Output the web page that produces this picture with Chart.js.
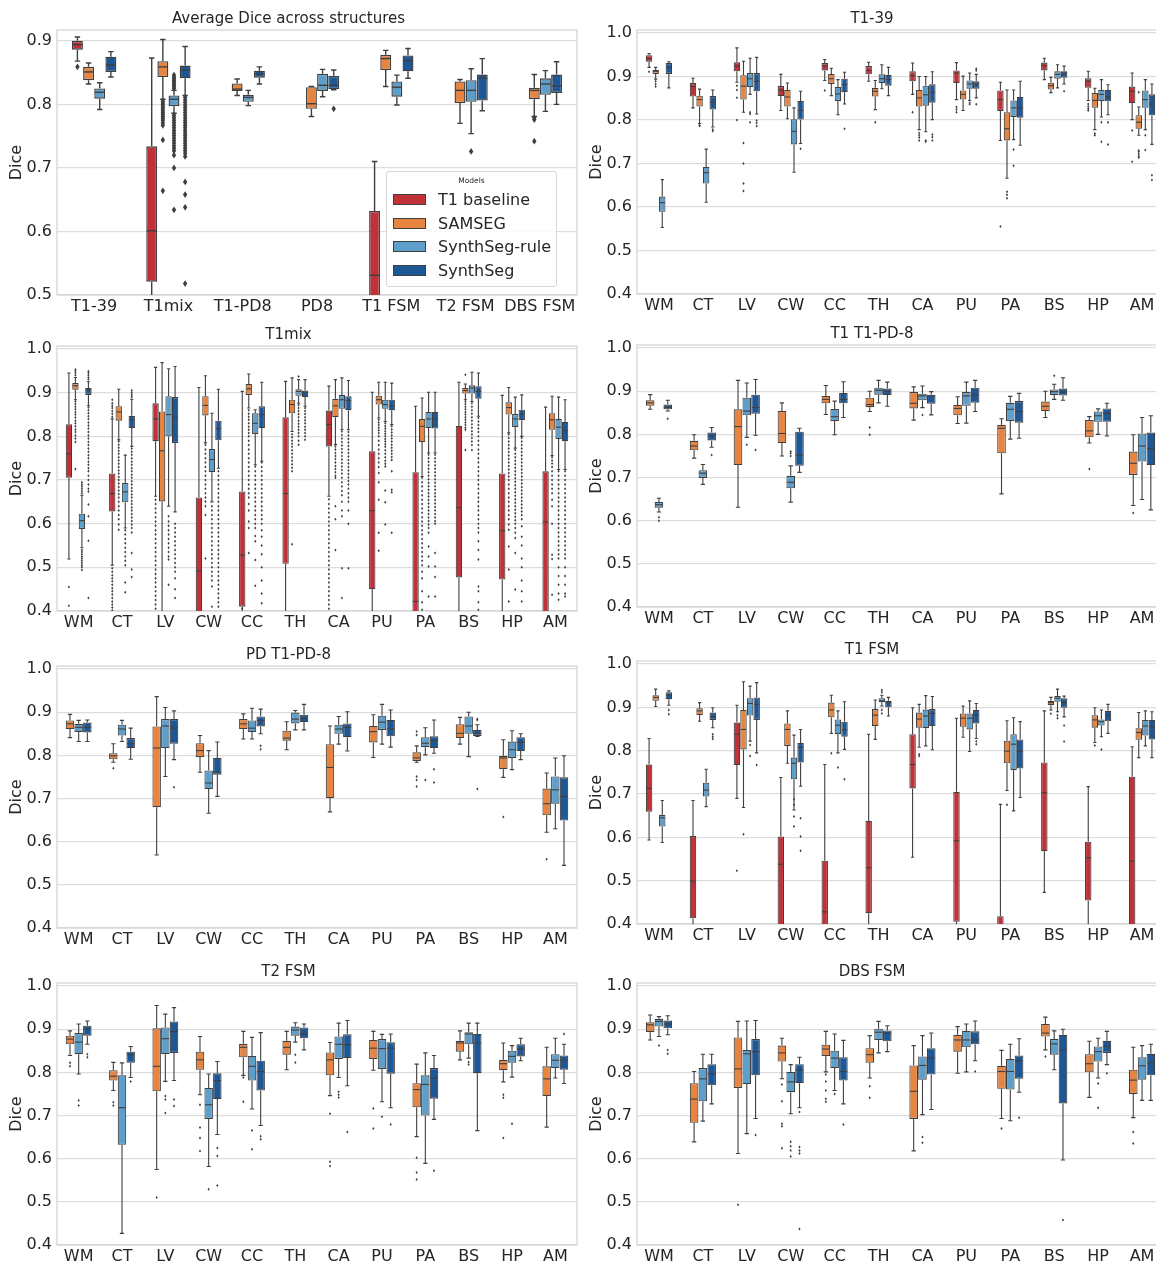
<!DOCTYPE html>
<html><head><meta charset="utf-8">
<script src="https://cdn.jsdelivr.net/npm/chart.js@4.4.0/dist/chart.umd.min.js"></script>
<style>
html,body{margin:0;padding:0;background:#fff;overflow:hidden;width:1156px;height:1265px;}
canvas{position:absolute;}
#legend{position:absolute;left:386px;top:171px;width:171px;height:116px;box-sizing:border-box;border:1px solid #d6d6d6;border-radius:3px;background:rgba(255,255,255,0.85);font-family:'DejaVu Sans',sans-serif;color:#262626;z-index:5;}
#legend .lt{position:absolute;left:0;right:0;top:4px;text-align:center;font-size:7.5px;}
#legend .li{position:absolute;left:6px;height:20px;font-size:16px;line-height:20px;white-space:nowrap;}
#legend .sw{display:inline-block;box-sizing:border-box;width:33px;height:11px;border:1px solid #3f3f3f;vertical-align:middle;margin-right:12px;position:relative;top:-1px;}
</style></head>
<body>
<script>
// ---------- labels ----------
const seriesNames = ['T1 baseline','SAMSEG','SynthSeg-rule','SynthSeg'];
const seriesColors = ['#c03237','#e68442','#5e9eca','#1e5796'];
const datasetNames = ['T1-39','T1mix','T1-PD8','PD8','T1 FSM','T2 FSM','DBS FSM'];
const structures = ['WM','CT','LV','CW','CC','TH','CA','PU','PA','BS','HP','AM'];
const ticksAvg = [0.5,0.6,0.7,0.8,0.9];
const ticksStruct = [0.4,0.5,0.6,0.7,0.8,0.9,1.0];
// stats per box: [min whisker, Q1, median, Q3, max whisker]

// ---------- Average Dice across structures ----------
const avg_base = [[0.868,0.886,0.894,0.900,0.906],[0.45,0.521,0.601,0.734,0.873],null,null,[0.35,0.45,0.531,0.632,0.71],null,null];
const avg_base_out = [[0.859],[],[],[],[],[],[]];
const avg_samseg = [[0.832,0.838,0.851,0.859,0.865],[0.808,0.843,0.859,0.868,0.902],[0.814,0.821,0.824,0.833,0.84],[0.781,0.793,0.801,0.827,0.828],[0.828,0.854,0.872,0.878,0.885],[0.77,0.802,0.822,0.836,0.839],[0.781,0.808,0.822,0.826,0.847]];
const avg_samseg_out = [[],[0.805,0.802,0.799,0.796,0.793,0.79,0.787,0.784,0.781,0.778,0.775,0.771,0.767,0.744,0.664],[],[],[],[],[0.779,0.776,0.742]];
const avg_rule = [[0.792,0.809,0.819,0.825,0.834],[0.786,0.797,0.808,0.814,0.822],[0.798,0.804,0.811,0.815,0.822],[0.812,0.821,0.83,0.848,0.855],[0.799,0.812,0.827,0.836,0.846],[0.754,0.804,0.822,0.838,0.856],[0.789,0.815,0.832,0.841,0.853]];
const avg_rule_out = [[],[0.846,0.843,0.84,0.837,0.834,0.831,0.828,0.825,0.783,0.779,0.775,0.771,0.767,0.763,0.759,0.755,0.751,0.747,0.743,0.739,0.735,0.731,0.727,0.72,0.70,0.634],[],[],[],[0.726],[]];
const avg_synth = [[0.843,0.851,0.862,0.875,0.883],[0.814,0.841,0.854,0.861,0.891],[0.832,0.842,0.848,0.853,0.859],[0.823,0.824,0.83,0.845,0.854],[0.841,0.852,0.869,0.877,0.888],[0.79,0.806,0.841,0.847,0.872],[0.8,0.818,0.829,0.847,0.867]];
const avg_synth_out = [[],[0.811,0.807,0.803,0.799,0.795,0.791,0.787,0.783,0.779,0.775,0.771,0.767,0.763,0.759,0.755,0.751,0.747,0.743,0.739,0.735,0.731,0.727,0.723,0.718,0.678,0.658,0.638,0.518],[],[0.793],[],[],[]];

// ---------- T1-39 ----------
const t139_base = [[0.921,0.934,0.941,0.949,0.953],[0.828,0.854,0.877,0.885,0.896],[0.887,0.912,0.924,0.933,0.966],[0.822,0.855,0.869,0.878,0.905],[0.891,0.914,0.924,0.931,0.939],[0.889,0.905,0.914,0.924,0.933],[0.859,0.889,0.902,0.912,0.931],[0.847,0.885,0.908,0.914,0.932],[0.753,0.821,0.847,0.868,0.887],[0.893,0.914,0.925,0.932,0.942],[0.845,0.874,0.889,0.896,0.912],[0.801,0.839,0.866,0.877,0.908]];
const t139_base_out = [[0.911],[],[0.879,0.869,0.851,0.80],[],[0.868],[],[0.818],[0.83,0.824,0.818],[0.555],[],[0.837,0.831,0.826,0.822],[0.776,0.704]];
const t139_samseg = [[0.894,0.906,0.912,0.915,0.921],[0.792,0.831,0.847,0.856,0.871],[0.818,0.847,0.878,0.903,0.935],[0.803,0.831,0.853,0.869,0.885],[0.856,0.883,0.895,0.906,0.919],[0.824,0.854,0.866,0.874,0.891],[0.778,0.831,0.851,0.869,0.9],[0.822,0.847,0.859,0.868,0.901],[0.666,0.753,0.78,0.818,0.869],[0.863,0.87,0.879,0.886,0.898],[0.778,0.828,0.845,0.862,0.873],[0.765,0.78,0.795,0.811,0.83]];
const t139_samseg_out = [[0.889,0.883,0.877],[0.788,0.786],[0.747,0.70,0.654,0.637],[],[],[0.795],[0.77,0.765,0.76,0.753],[],[0.635,0.628,0.62],[],[0.769,0.765],[0.864,0.73,0.727,0.722,0.717,0.714]];
const t139_rule = [[0.553,0.589,0.61,0.624,0.663],[0.611,0.654,0.679,0.692,0.733],[0.859,0.876,0.895,0.908,0.942],[0.68,0.744,0.774,0.802,0.828],[0.812,0.844,0.86,0.876,0.893],[0.872,0.885,0.895,0.905,0.927],[0.773,0.833,0.858,0.879,0.9],[0.845,0.872,0.883,0.891,0.908],[0.755,0.807,0.828,0.845,0.869],[0.874,0.895,0.905,0.912,0.927],[0.807,0.844,0.859,0.869,0.893],[0.778,0.828,0.847,0.868,0.893]];
const t139_rule_out = [[],[],[0.818,0.814,0.795],[],[],[],[0.753,0.75],[0.84,0.836],[0.732,0.695],[],[0.795,0.75],[0.765,0.731]];
const t139_synth = [[0.874,0.906,0.921,0.931,0.934],[0.784,0.824,0.841,0.855,0.869],[0.814,0.866,0.889,0.908,0.944],[0.746,0.801,0.822,0.844,0.866],[0.837,0.864,0.882,0.895,0.91],[0.856,0.879,0.893,0.904,0.921],[0.801,0.84,0.864,0.882,0.911],[0.851,0.872,0.883,0.889,0.905],[0.742,0.805,0.827,0.853,0.889],[0.883,0.897,0.908,0.912,0.924],[0.812,0.843,0.853,0.869,0.881],[0.744,0.811,0.837,0.859,0.883]];
const t139_synth_out = [[],[0.778,0.775],[0.799,0.793,0.786],[0.734],[0.78],[],[0.767,0.761,0.753],[0.918,0.914,0.836],[],[0.866],[0.795,0.744],[0.673,0.662]];

// ---------- T1mix ----------
const t1mix_base = [[0.519,0.705,0.76,0.828,0.945],[0.505,0.628,0.669,0.715,0.84],[0.663,0.789,0.84,0.876,0.958],[0.2,0.33,0.492,0.66,0.912],[0.3,0.41,0.528,0.674,0.903],[0.38,0.508,0.669,0.844,0.926],[0.663,0.777,0.827,0.859,0.915],[0.35,0.45,0.63,0.766,0.901],[0.2,0.3,0.422,0.718,0.869],[0.38,0.477,0.637,0.824,0.924],[0.38,0.472,0.584,0.715,0.894],[0.25,0.35,0.604,0.72,0.867]];
const t1mix_base_out = [
 [0.455,0.412],
 [0.845,0.852,0.858,0.865,0.87,0.876,0.884,0.498,0.49,0.482,0.475,0.468,0.46,0.452,0.445,0.438,0.43,0.422,0.415,0.408,0.401],
 [0.655,0.645,0.635,0.625,0.615,0.605,0.595,0.585,0.575,0.565,0.555,0.545,0.535,0.525,0.515,0.505,0.495,0.485,0.475,0.465,0.455,0.445,0.435,0.425,0.415,0.405],
 [],[0.405],[],
 [0.656,0.645,0.635,0.625,0.615,0.605,0.595,0.585,0.575,0.565,0.555,0.545,0.535,0.525,0.515,0.505,0.495,0.485,0.475,0.465,0.455,0.445,0.435,0.425,0.415,0.405],
 [],[],[],[],[]];
const t1mix_samseg = [[0.884,0.907,0.916,0.922,0.935],[0.792,0.836,0.856,0.869,0.908],[0.36,0.651,0.767,0.857,0.969],[0.785,0.848,0.871,0.892,0.939],[0.865,0.895,0.909,0.92,0.943],[0.811,0.853,0.873,0.884,0.934],[0.781,0.844,0.87,0.886,0.93],[0.842,0.873,0.884,0.893,0.924],[0.708,0.787,0.823,0.84,0.888],[0.884,0.898,0.905,0.911,0.92],[0.808,0.85,0.866,0.878,0.912],[0.756,0.815,0.838,0.853,0.892]];
const t1mix_samseg_out = [
 [0.94,0.945,0.95,0.953,0.88,0.874,0.868,0.862,0.856,0.85,0.843,0.836,0.83,0.823,0.816,0.81,0.802,0.795,0.787,0.725],
 [0.788,0.781,0.774,0.767,0.76,0.752,0.745,0.737,0.73,0.722,0.715,0.707,0.7,0.692,0.684,0.676,0.668,0.66,0.65,0.64,0.63,0.62,0.61,0.598,0.586],
 [],
 [0.78,0.77,0.76,0.75,0.74,0.73,0.72,0.71,0.7,0.69,0.68,0.67,0.66,0.651,0.64,0.62,0.52],
 [0.86,0.852,0.845,0.838,0.83,0.822,0.815,0.808,0.8,0.79,0.78,0.77,0.76,0.75,0.74,0.73,0.72,0.71,0.7,0.69,0.68,0.67,0.66,0.645,0.63,0.605,0.59,0.533],
 [0.805,0.798,0.79,0.783,0.776,0.768,0.76,0.752,0.744,0.736,0.728,0.72,0.553],
 [0.777,0.77,0.762,0.755,0.748,0.74,0.732,0.725,0.718,0.71,0.705,0.64,0.61,0.54],
 [0.838,0.832,0.826,0.82,0.814,0.808,0.8,0.79,0.78,0.77,0.76,0.75,0.74,0.73,0.716,0.695,0.655,0.579,0.538],
 [0.705,0.695,0.685,0.675,0.665,0.655,0.645,0.635,0.625,0.615,0.605,0.595,0.585,0.575,0.565,0.555,0.545,0.535,0.525,0.515,0.505,0.49,0.475,0.445,0.42,0.403],
 [0.941,0.88,0.874,0.868,0.862,0.856,0.85,0.844,0.838,0.832,0.826,0.82,0.815,0.769],
 [0.804,0.796,0.788,0.78,0.772,0.764,0.756,0.748,0.74,0.732,0.724,0.716,0.708,0.7,0.69,0.68,0.67,0.66,0.65,0.64,0.63,0.62,0.61,0.598,0.586,0.548,0.495,0.422],
 [0.752,0.745,0.738,0.73,0.72,0.71,0.7,0.69,0.68,0.67,0.655,0.64,0.6,0.529,0.519,0.437]];
const t1mix_rule = [[0.545,0.588,0.607,0.623,0.665],[0.59,0.649,0.673,0.693,0.757],[0.64,0.8,0.85,0.892,0.955],[0.65,0.718,0.747,0.771,0.853],[0.735,0.805,0.83,0.853,0.861],[0.876,0.893,0.903,0.908,0.93],[0.815,0.863,0.884,0.895,0.934],[0.834,0.863,0.873,0.884,0.924],[0.762,0.819,0.84,0.856,0.901],[0.88,0.898,0.911,0.917,0.947],[0.773,0.821,0.84,0.851,0.89],[0.724,0.794,0.821,0.84,0.89]];
const t1mix_rule_out = [
 [0.67,0.675,0.68,0.685,0.69,0.695,0.54,0.535,0.53,0.525,0.52,0.515,0.51,0.505,0.5,0.494],
 [0.585,0.575,0.565,0.555,0.545,0.535,0.525,0.515,0.505,0.465,0.443],
 [0.617,0.605,0.595,0.585,0.575,0.565,0.555,0.545,0.535,0.525,0.518,0.46],
 [0.64,0.63,0.62,0.61,0.6,0.59,0.58,0.57,0.56,0.55,0.54,0.53,0.52,0.51,0.5,0.49,0.48,0.47,0.456,0.41],
 [0.731,0.72,0.71,0.7,0.69,0.68,0.67,0.66,0.65,0.64,0.63,0.62,0.61,0.6,0.59,0.572,0.56,0.517,0.458],
 [0.937,0.872,0.865,0.858,0.851,0.844,0.836,0.829,0.822,0.815,0.808,0.8,0.79,0.781],
 [0.811,0.803,0.795,0.787,0.779,0.771,0.763,0.755,0.747,0.739,0.731,0.723,0.715,0.705,0.695,0.685,0.675,0.665,0.65,0.63,0.617,0.498,0.43],
 [0.83,0.824,0.818,0.812,0.806,0.8,0.794,0.788,0.782,0.776,0.768,0.76,0.752,0.744,0.737,0.731,0.676,0.649,0.598],
 [0.758,0.75,0.742,0.734,0.726,0.718,0.71,0.702,0.694,0.686,0.678,0.67,0.662,0.654,0.646,0.638,0.63,0.622,0.614,0.606,0.598,0.59,0.579,0.548,0.525,0.502,0.433],
 [0.876,0.868,0.86,0.852,0.844,0.836,0.828,0.82,0.812,0.804,0.796,0.788,0.78,0.769],
 [0.769,0.76,0.752,0.744,0.736,0.728,0.72,0.712,0.704,0.696,0.688,0.68,0.672,0.664,0.656,0.648,0.64,0.632,0.624,0.616,0.608,0.6,0.59,0.579,0.567,0.533,0.449],
 [0.72,0.71,0.7,0.69,0.68,0.67,0.66,0.65,0.64,0.63,0.62,0.61,0.6,0.59,0.58,0.57,0.56,0.55,0.54,0.53,0.52,0.5,0.48,0.46,0.44,0.426]];
const t1mix_synth = [[0.87,0.895,0.906,0.911,0.925],[0.777,0.819,0.838,0.847,0.885],[0.627,0.785,0.843,0.89,0.96],[0.727,0.791,0.818,0.836,0.908],[0.743,0.819,0.85,0.869,0.924],[0.869,0.89,0.901,0.905,0.93],[0.815,0.86,0.882,0.892,0.928],[0.827,0.86,0.87,0.884,0.922],[0.762,0.818,0.84,0.856,0.901],[0.846,0.886,0.903,0.915,0.945],[0.8,0.837,0.851,0.861,0.895],[0.724,0.789,0.813,0.833,0.884]];
const t1mix_synth_out = [
 [0.93,0.935,0.94,0.945,0.949,0.866,0.86,0.853,0.846,0.84,0.832,0.825,0.818,0.81,0.802,0.795,0.787,0.78,0.772,0.765,0.757,0.75,0.742,0.735,0.727,0.72,0.71,0.7,0.69,0.68,0.674,0.644,0.617,0.561,0.43],
 [0.89,0.895,0.9,0.905,0.772,0.765,0.758,0.75,0.742,0.735,0.727,0.72,0.712,0.705,0.697,0.69,0.682,0.675,0.667,0.66,0.652,0.645,0.637,0.63,0.622,0.614,0.606,0.598,0.59,0.58,0.533,0.495,0.478],
 [0.6,0.59,0.58,0.57,0.56,0.55,0.54,0.53,0.52,0.51,0.5,0.49,0.475,0.45,0.43],
 [0.72,0.71,0.7,0.69,0.68,0.67,0.66,0.65,0.64,0.63,0.62,0.61,0.6,0.59,0.58,0.57,0.56,0.55,0.54,0.53,0.52,0.51,0.5,0.49,0.48,0.47,0.46,0.45,0.44,0.43,0.42,0.41],
 [0.74,0.73,0.72,0.71,0.7,0.69,0.68,0.67,0.66,0.65,0.64,0.63,0.62,0.61,0.6,0.585,0.57,0.55,0.53,0.5,0.47,0.44,0.418],
 [0.865,0.858,0.851,0.844,0.837,0.83,0.822,0.815,0.808,0.8,0.792],
 [0.81,0.802,0.794,0.786,0.778,0.77,0.762,0.754,0.746,0.738,0.73,0.722,0.714,0.706,0.698,0.69,0.68,0.67,0.66,0.65,0.63,0.6,0.498],
 [0.823,0.816,0.809,0.802,0.795,0.788,0.781,0.774,0.767,0.76,0.753,0.746,0.72,0.678,0.672,0.579],
 [0.758,0.75,0.742,0.734,0.726,0.718,0.71,0.702,0.694,0.686,0.678,0.67,0.662,0.654,0.646,0.638,0.63,0.622,0.614,0.606,0.6,0.533,0.502,0.478,0.433],
 [0.842,0.834,0.826,0.818,0.81,0.8,0.79,0.78,0.77,0.76,0.75,0.74,0.73,0.72,0.71,0.7,0.69,0.68,0.67,0.66,0.65,0.64,0.63,0.62,0.61,0.6,0.59,0.58,0.56,0.54,0.518,0.456,0.445,0.42,0.403],
 [0.796,0.788,0.78,0.772,0.764,0.756,0.748,0.74,0.732,0.724,0.716,0.708,0.7,0.692,0.684,0.676,0.668,0.66,0.652,0.644,0.636,0.628,0.62,0.61,0.594,0.57,0.55,0.52,0.5,0.47,0.445,0.422],
 [0.72,0.71,0.7,0.69,0.68,0.67,0.66,0.65,0.64,0.63,0.62,0.61,0.6,0.59,0.58,0.57,0.56,0.55,0.54,0.53,0.52,0.5,0.48,0.46,0.44,0.433]];

// ---------- T1 T1-PD-8 ----------
const t1pd_samseg = [[0.858,0.866,0.873,0.879,0.892],[0.745,0.763,0.773,0.785,0.799],[0.631,0.729,0.818,0.858,0.925],[0.75,0.78,0.802,0.854,0.873],[0.846,0.872,0.881,0.889,0.913],[0.853,0.863,0.869,0.885,0.9],[0.833,0.86,0.872,0.898,0.91],[0.825,0.844,0.86,0.868,0.887],[0.662,0.756,0.814,0.822,0.836],[0.839,0.854,0.865,0.876,0.9],[0.78,0.793,0.808,0.833,0.841],[0.635,0.706,0.733,0.76,0.799]];
const t1pd_samseg_out = [[],[],[],[],[],[0.816,0.799],[],[],[],[],[0.72],[0.618]];
const t1pd_rule = [[0.62,0.63,0.637,0.643,0.652],[0.684,0.699,0.71,0.717,0.73],[0.793,0.844,0.854,0.885,0.919],[0.643,0.675,0.689,0.704,0.727],[0.799,0.831,0.841,0.859,0.877],[0.873,0.892,0.902,0.908,0.925],[0.862,0.879,0.889,0.894,0.912],[0.826,0.866,0.889,0.898,0.921],[0.789,0.831,0.858,0.873,0.888],[0.881,0.891,0.899,0.904,0.916],[0.8,0.829,0.843,0.853,0.859],[0.649,0.737,0.773,0.802,0.839]];
const t1pd_rule_out = [[0.608,0.6],[],[0.776],[0.76,0.756,0.75],[],[],[0.845],[],[],[0.936],[],[]];
const t1pd_synth = [[0.854,0.858,0.863,0.869,0.879],[0.77,0.786,0.796,0.804,0.816],[0.798,0.848,0.862,0.892,0.927],[0.712,0.727,0.752,0.806,0.814],[0.839,0.872,0.881,0.896,0.922],[0.865,0.891,0.899,0.906,0.921],[0.845,0.871,0.889,0.892,0.899],[0.853,0.873,0.891,0.908,0.925],[0.791,0.827,0.853,0.877,0.895],[0.879,0.89,0.898,0.906,0.931],[0.796,0.829,0.849,0.86,0.872],[0.625,0.729,0.767,0.804,0.843]];
const t1pd_synth_out = [[0.836],[0.752],[0.764],[],[],[],[],[],[],[],[],[]];

// ---------- PD T1-PD-8 ----------
const pd_samseg = [[0.841,0.861,0.873,0.881,0.895],[0.784,0.791,0.799,0.805,0.827],[0.569,0.68,0.817,0.867,0.936],[0.761,0.796,0.811,0.828,0.846],[0.838,0.861,0.873,0.884,0.896],[0.813,0.834,0.84,0.857,0.878],[0.669,0.701,0.772,0.826,0.868],[0.795,0.83,0.855,0.868,0.894],[0.784,0.787,0.794,0.807,0.822],[0.826,0.84,0.851,0.872,0.888],[0.749,0.768,0.794,0.799,0.836],[0.622,0.661,0.688,0.723,0.759]];
const pd_samseg_out = [[],[0.77],[],[],[],[],[],[],[0.855,0.847,0.751,0.743,0.728],[],[0.657],[0.559]];
const pd_rule = [[0.832,0.854,0.865,0.873,0.881],[0.832,0.846,0.861,0.871,0.881],[0.751,0.817,0.868,0.884,0.911],[0.666,0.722,0.736,0.765,0.811],[0.838,0.854,0.863,0.881,0.909],[0.859,0.874,0.884,0.899,0.904],[0.826,0.85,0.861,0.871,0.89],[0.826,0.859,0.877,0.892,0.918],[0.801,0.819,0.828,0.842,0.864],[0.797,0.85,0.868,0.89,0.9],[0.767,0.794,0.813,0.832,0.857],[0.63,0.688,0.72,0.751,0.794]];
const pd_rule_out = [[],[],[],[],[],[],[],[],[0.743],[],[],[]];
const pd_synth = [[0.832,0.853,0.865,0.876,0.882],[0.791,0.817,0.827,0.84,0.863],[0.79,0.827,0.863,0.884,0.903],[0.705,0.755,0.761,0.794,0.831],[0.85,0.867,0.881,0.89,0.907],[0.859,0.877,0.886,0.894,0.918],[0.81,0.842,0.865,0.874,0.901],[0.819,0.844,0.861,0.882,0.905],[0.805,0.817,0.834,0.844,0.882],[0.844,0.845,0.851,0.859,0.871],[0.79,0.81,0.83,0.842,0.85],[0.545,0.649,0.705,0.749,0.799]];
const pd_synth_out = [[],[],[0.726],[],[0.822,0.814],[],[],[],[0.768,0.737],[0.884,0.882,0.722],[],[]];

// ---------- T1 FSM ----------
const t1fsm_base = [[0.594,0.659,0.713,0.768,0.828],[0.38,0.413,0.499,0.603,0.685],[0.69,0.767,0.838,0.865,0.905],[0.2,0.3,0.538,0.602,0.738],[0.2,0.3,0.428,0.546,0.768],[0.38,0.425,0.53,0.638,0.838],[0.554,0.713,0.768,0.838,0.899],[0.35,0.405,0.592,0.705,0.875],[0.2,0.3,0.39,0.418,0.676],[0.473,0.568,0.703,0.773,0.892],[0.35,0.454,0.553,0.59,0.717],[0.2,0.3,0.545,0.74,0.809]];
const t1fsm_base_out = [[],[],[0.523],[],[],[],[],[],[],[],[],[]];
const t1fsm_samseg = [[0.902,0.915,0.923,0.928,0.942],[0.868,0.882,0.892,0.898,0.911],[0.669,0.803,0.849,0.894,0.959],[0.771,0.811,0.849,0.863,0.892],[0.84,0.877,0.894,0.911,0.928],[0.826,0.857,0.882,0.896,0.917],[0.808,0.853,0.873,0.888,0.907],[0.831,0.855,0.875,0.886,0.903],[0.708,0.771,0.799,0.823,0.869],[0.894,0.905,0.911,0.915,0.923],[0.819,0.853,0.871,0.882,0.899],[0.784,0.825,0.842,0.852,0.888]];
const t1fsm_samseg_out = [[],[],[0.607],[],[0.794],[],[0.792,0.788],[],[0.675],[0.885],[0.812],[]];
const t1fsm_rule = [[0.588,0.625,0.645,0.652,0.685],[0.671,0.694,0.709,0.726,0.757],[0.822,0.881,0.909,0.921,0.949],[0.663,0.734,0.771,0.784,0.836],[0.795,0.838,0.859,0.872,0.892],[0.903,0.912,0.915,0.921,0.928],[0.811,0.852,0.88,0.895,0.927],[0.798,0.849,0.875,0.886,0.915],[0.661,0.755,0.815,0.838,0.876],[0.89,0.913,0.921,0.926,0.942],[0.832,0.858,0.867,0.872,0.894],[0.811,0.835,0.857,0.871,0.892]];
const t1fsm_rule_out = [[],[],[0.813,0.788],[0.688,0.675,0.648,0.625],[0.761],[0.94,0.935,0.894,0.886],[],[],[],[0.882,0.875],[0.803],[]];
const t1fsm_synth = [[0.905,0.919,0.928,0.935,0.938],[0.853,0.871,0.878,0.888,0.899],[0.795,0.871,0.907,0.923,0.957],[0.718,0.773,0.808,0.818,0.849],[0.803,0.832,0.848,0.867,0.913],[0.88,0.9,0.911,0.915,0.923],[0.802,0.857,0.886,0.896,0.925],[0.828,0.863,0.882,0.894,0.909],[0.692,0.759,0.799,0.826,0.867],[0.878,0.899,0.911,0.921,0.926],[0.84,0.868,0.882,0.892,0.907],[0.784,0.826,0.855,0.871,0.89]];
const t1fsm_synth_out = [[0.894,0.884],[0.838,0.832,0.827],[0.767],[0.644,0.602,0.569],[0.734],[],[],[0.822,0.815],[],[0.858,0.821],[],[]];

// ---------- T2 FSM ----------
const t2fsm_samseg = [[0.839,0.865,0.877,0.885,0.896],[0.758,0.781,0.791,0.805,0.823],[0.575,0.756,0.814,0.902,0.955],[0.748,0.806,0.829,0.848,0.883],[0.793,0.835,0.858,0.866,0.895],[0.806,0.841,0.858,0.873,0.895],[0.746,0.793,0.829,0.846,0.869],[0.805,0.831,0.856,0.875,0.895],[0.651,0.719,0.76,0.775,0.819],[0.829,0.848,0.868,0.873,0.896],[0.778,0.805,0.82,0.829,0.868],[0.673,0.745,0.785,0.814,0.858]];
const t2fsm_samseg_out = [[0.822,0.814],[0.731,0.723],[0.51],[0.725,0.672,0.648,0.618],[0.788,0.732],[],[0.704,0.593,0.583],[0.716,0.67],[0.602,0.568,0.552],[],[0.748,0.741,0.648],[]];
const t2fsm_rule = [[0.796,0.842,0.87,0.891,0.912],[0.427,0.632,0.718,0.793,0.822],[0.779,0.842,0.878,0.904,0.935],[0.582,0.692,0.725,0.764,0.796],[0.715,0.781,0.814,0.838,0.881],[0.87,0.885,0.898,0.906,0.915],[0.788,0.831,0.865,0.883,0.914],[0.732,0.808,0.855,0.877,0.888],[0.589,0.7,0.772,0.793,0.845],[0.833,0.865,0.889,0.893,0.914],[0.789,0.822,0.837,0.85,0.862],[0.787,0.81,0.828,0.842,0.879]];
const t2fsm_rule_out = [[0.735,0.723],[],[0.745,0.737,0.706],[0.529],[0.665,0.622],[0.841,0.823],[0.755,0.748,0.742],[0.697],[],[0.824,0.818],[0.681],[]];
const t2fsm_synth = [[0.865,0.885,0.901,0.908,0.919],[0.788,0.822,0.841,0.848,0.86],[0.781,0.845,0.895,0.918,0.95],[0.656,0.738,0.781,0.798,0.825],[0.677,0.758,0.802,0.827,0.892],[0.852,0.879,0.889,0.904,0.912],[0.769,0.833,0.864,0.888,0.92],[0.718,0.797,0.856,0.87,0.889],[0.691,0.739,0.787,0.81,0.839],[0.665,0.798,0.868,0.889,0.914],[0.827,0.837,0.854,0.865,0.879],[0.774,0.806,0.828,0.839,0.865]];
const t2fsm_synth_out = [[0.842,0.835],[0.779],[0.737,0.722],[0.625,0.606,0.538],[0.652,0.645],[],[0.662],[0.679],[0.572],[],[],[0.889]];

// ---------- DBS FSM ----------
const dbs_samseg = [[0.875,0.893,0.91,0.916,0.933],[0.639,0.683,0.738,0.775,0.802],[0.612,0.764,0.808,0.881,0.918],[0.785,0.825,0.845,0.862,0.879],[0.801,0.838,0.854,0.864,0.895],[0.787,0.822,0.841,0.856,0.885],[0.618,0.692,0.756,0.816,0.862],[0.798,0.848,0.875,0.887,0.906],[0.693,0.762,0.802,0.815,0.851],[0.852,0.883,0.891,0.912,0.928],[0.742,0.8,0.82,0.842,0.872],[0.695,0.75,0.782,0.806,0.858]];
const dbs_samseg_out = [[],[],[0.493],[0.772,0.733,0.681,0.675,0.624],[0.795,0.779,0.758,0.739,0.732],[0.768,0.741],[],[],[0.67],[0.837],[],[0.662,0.635]];
const dbs_rule = [[0.883,0.906,0.918,0.924,0.929],[0.687,0.733,0.785,0.81,0.842],[0.658,0.773,0.843,0.852,0.919],[0.704,0.754,0.778,0.801,0.818],[0.758,0.81,0.833,0.85,0.889],[0.845,0.875,0.893,0.901,0.918],[0.702,0.783,0.816,0.837,0.885],[0.801,0.858,0.875,0.896,0.912],[0.688,0.76,0.802,0.831,0.865],[0.806,0.841,0.866,0.877,0.896],[0.787,0.825,0.848,0.86,0.879],[0.735,0.783,0.815,0.835,0.862]];
const dbs_rule_out = [[0.862],[],[],[0.639,0.629,0.619,0.605],[0.75],[],[0.65,0.637],[],[],[],[0.774,0.718],[]];
const dbs_synth = [[0.887,0.902,0.912,0.92,0.931],[0.727,0.77,0.796,0.819,0.842],[0.693,0.793,0.848,0.877,0.92],[0.718,0.775,0.806,0.819,0.835],[0.727,0.781,0.802,0.835,0.874],[0.848,0.872,0.891,0.897,0.908],[0.714,0.795,0.833,0.856,0.891],[0.827,0.865,0.875,0.895,0.919],[0.754,0.785,0.827,0.839,0.878],[0.597,0.728,0.852,0.887,0.9],[0.818,0.845,0.86,0.873,0.895],[0.735,0.793,0.822,0.843,0.865]];
const dbs_synth_out = [[0.852,0.843],[],[0.655],[0.708,0.627,0.619,0.612,0.437],[0.679],[],[],[0.802],[0.695],[0.458],[0.798],[]];

// ---------- drawing ----------
const FONT = "'DejaVu Sans', sans-serif";
const TXT = '#262626';
const LINE = '#3f3f3f';

const boxPlugin = {
  id: 'boxwhisker',
  beforeDatasetsDraw(chart, args, opts) {
    const {ctx, chartArea: a} = chart;
    const y = chart.scales.y;
    ctx.save();
    ctx.strokeStyle = '#d2d2d2'; ctx.lineWidth = 1.2;
    ctx.strokeRect(a.left, a.top, a.right - a.left, a.bottom - a.top);
    ctx.beginPath(); ctx.rect(a.left, a.top, a.right - a.left, a.bottom - a.top); ctx.clip();
    ctx.strokeStyle = LINE; ctx.lineWidth = opts.lw;
    chart.data.datasets.forEach((ds, di) => {
      const meta = chart.getDatasetMeta(di);
      ds.stats.forEach((t, i) => {
        if (!t) return;
        const el = meta.data[i];
        const x = el.x, w = el.width;
        const pMin = y.getPixelForValue(t[0]), pQ1 = y.getPixelForValue(t[1]);
        const pQ3 = y.getPixelForValue(t[3]), pMax = y.getPixelForValue(t[4]);
        ctx.beginPath();
        ctx.moveTo(x, pQ3); ctx.lineTo(x, pMax);
        ctx.moveTo(x, pQ1); ctx.lineTo(x, pMin);
        ctx.moveTo(x - w / 4, pMax); ctx.lineTo(x + w / 4, pMax);
        ctx.moveTo(x - w / 4, pMin); ctx.lineTo(x + w / 4, pMin);
        ctx.stroke();
      });
    });
    ctx.restore();
  },
  afterDatasetsDraw(chart, args, opts) {
    const {ctx, chartArea: a} = chart;
    const y = chart.scales.y;
    ctx.save();
    ctx.beginPath(); ctx.rect(a.left, a.top - 4, a.right - a.left, a.bottom - a.top + 4); ctx.clip();
    ctx.strokeStyle = LINE; ctx.fillStyle = LINE; ctx.lineWidth = opts.lw;
    chart.data.datasets.forEach((ds, di) => {
      const meta = chart.getDatasetMeta(di);
      ds.stats.forEach((t, i) => {
        if (!t) return;
        const el = meta.data[i];
        const x = el.x, w = el.width;
        const pMed = y.getPixelForValue(t[2]);
        ctx.beginPath(); ctx.moveTo(x - w / 2 + 0.5, pMed); ctx.lineTo(x + w / 2 - 0.5, pMed); ctx.stroke();
        (ds.fliers[i] || []).forEach(v => {
          const py = y.getPixelForValue(v);
          if (py > a.bottom + 2) return;
          ctx.beginPath();
          ctx.moveTo(x, py - opts.fh); ctx.lineTo(x + opts.fw, py);
          ctx.lineTo(x, py + opts.fh); ctx.lineTo(x - opts.fw, py);
          ctx.closePath(); ctx.fill();
        });
      });
    });
    ctx.restore();
  }
};

function buildPanel(p) {
  const cv = document.createElement('canvas');
  cv.width = p.w; cv.height = p.h;
  cv.style.left = p.x + 'px'; cv.style.top = p.y + 'px';
  cv.style.width = p.w + 'px'; cv.style.height = p.h + 'px';
  document.body.appendChild(cv);
  const datasets = p.series.map(s => ({
    label: seriesNames[s.k],
    data: s.stats.map(t => t ? [t[1], t[3]] : null),
    stats: s.stats,
    fliers: s.out,
    backgroundColor: seriesColors[s.k],
    borderColor: LINE,
    borderWidth: p.lw,
    borderSkipped: false,
    categoryPercentage: 0.6,
    barPercentage: 0.98
  }));
  new Chart(cv, {
    type: 'bar',
    data: { labels: p.cats, datasets },
    options: {
      responsive: false, animation: false, events: [],
      layout: { padding: { left: 0, right: p.padR, top: 0, bottom: 0 } },
      plugins: {
        legend: { display: false }, tooltip: { enabled: false },
        title: { display: true, text: p.title, color: TXT, font: { family: FONT, size: 15, weight: 'normal' }, padding: { top: 10, bottom: 2 } },
        boxwhisker: { lw: p.lw, fw: p.fw, fh: p.fh }
      },
      scales: {
        x: {
          grid: { display: false, drawTicks: false }, border: { display: false },
          ticks: { color: TXT, font: { family: FONT, size: 16 }, padding: 2, maxRotation: 0, autoSkip: false },
          afterFit(s) { s.height = 23; }
        },
        y: {
          min: p.ymin, max: p.ymax,
          grid: { color: '#dddddd', lineWidth: 1.2, drawTicks: false }, border: { display: false },
          ticks: { color: TXT, font: { family: FONT, size: 16 }, padding: 5, callback: v => Number(v).toFixed(1) },
          afterBuildTicks(s) { s.ticks = p.ticks.map(v => ({ value: v })); },
          title: { display: true, text: 'Dice', color: TXT, font: { family: FONT, size: 16 }, padding: { top: 7, bottom: 0 } },
          afterFit(s) { s.width = 57; }
        }
      }
    },
    plugins: [boxPlugin]
  });
}

const L = { x: 0, w: 580, padR: 3 };
const R = { x: 580, w: 590, padR: 6 };
const small = { lw: 1.1, fw: 1.1, fh: 1.5 };

buildPanel(Object.assign({}, L, { y: 0, h: 318, title: 'Average Dice across structures', cats: datasetNames, ymin: 0.5, ymax: 0.917, ticks: ticksAvg, lw: 1.4, fw: 2.2, fh: 3.4,
  series: [{k:0, stats: avg_base, out: avg_base_out},{k:1, stats: avg_samseg, out: avg_samseg_out},{k:2, stats: avg_rule, out: avg_rule_out},{k:3, stats: avg_synth, out: avg_synth_out}] }));
buildPanel(Object.assign({}, R, small, { y: 0, h: 317, title: 'T1-39', cats: structures, ymin: 0.4, ymax: 1.007, ticks: ticksStruct,
  series: [{k:0, stats: t139_base, out: t139_base_out},{k:1, stats: t139_samseg, out: t139_samseg_out},{k:2, stats: t139_rule, out: t139_rule_out},{k:3, stats: t139_synth, out: t139_synth_out}] }));
buildPanel(Object.assign({}, L, small, { y: 316, h: 318, title: 'T1mix', cats: structures, ymin: 0.4, ymax: 1.007, ticks: ticksStruct,
  series: [{k:0, stats: t1mix_base, out: t1mix_base_out},{k:1, stats: t1mix_samseg, out: t1mix_samseg_out},{k:2, stats: t1mix_rule, out: t1mix_rule_out},{k:3, stats: t1mix_synth, out: t1mix_synth_out}] }));
buildPanel(Object.assign({}, R, small, { y: 315, h: 315, title: 'T1 T1-PD-8', cats: structures, ymin: 0.4, ymax: 1.007, ticks: ticksStruct,
  series: [{k:1, stats: t1pd_samseg, out: t1pd_samseg_out},{k:2, stats: t1pd_rule, out: t1pd_rule_out},{k:3, stats: t1pd_synth, out: t1pd_synth_out}] }));
buildPanel(Object.assign({}, L, small, { y: 636, h: 315, title: 'PD T1-PD-8', cats: structures, ymin: 0.4, ymax: 1.007, ticks: ticksStruct,
  series: [{k:1, stats: pd_samseg, out: pd_samseg_out},{k:2, stats: pd_rule, out: pd_rule_out},{k:3, stats: pd_synth, out: pd_synth_out}] }));
buildPanel(Object.assign({}, R, small, { y: 631, h: 316, title: 'T1 FSM', cats: structures, ymin: 0.4, ymax: 1.007, ticks: ticksStruct,
  series: [{k:0, stats: t1fsm_base, out: t1fsm_base_out},{k:1, stats: t1fsm_samseg, out: t1fsm_samseg_out},{k:2, stats: t1fsm_rule, out: t1fsm_rule_out},{k:3, stats: t1fsm_synth, out: t1fsm_synth_out}] }));
buildPanel(Object.assign({}, L, small, { y: 953, h: 315, title: 'T2 FSM', cats: structures, ymin: 0.4, ymax: 1.007, ticks: ticksStruct,
  series: [{k:1, stats: t2fsm_samseg, out: t2fsm_samseg_out},{k:2, stats: t2fsm_rule, out: t2fsm_rule_out},{k:3, stats: t2fsm_synth, out: t2fsm_synth_out}] }));
buildPanel(Object.assign({}, R, small, { y: 953, h: 315, title: 'DBS FSM', cats: structures, ymin: 0.4, ymax: 1.007, ticks: ticksStruct,
  series: [{k:1, stats: dbs_samseg, out: dbs_samseg_out},{k:2, stats: dbs_rule, out: dbs_rule_out},{k:3, stats: dbs_synth, out: dbs_synth_out}] }));

// legend
const lg = document.createElement('div');
lg.id = 'legend';
let html = '<div class="lt">Models</div>';
const tops = [18, 41.5, 65, 88.5];
seriesNames.forEach((n, i) => {
  html += `<div class="li" style="top:${tops[i]}px"><span class="sw" style="background:${seriesColors[i]}"></span>${n}</div>`;
});
lg.innerHTML = html;
document.body.appendChild(lg);
</script>
</body></html>
